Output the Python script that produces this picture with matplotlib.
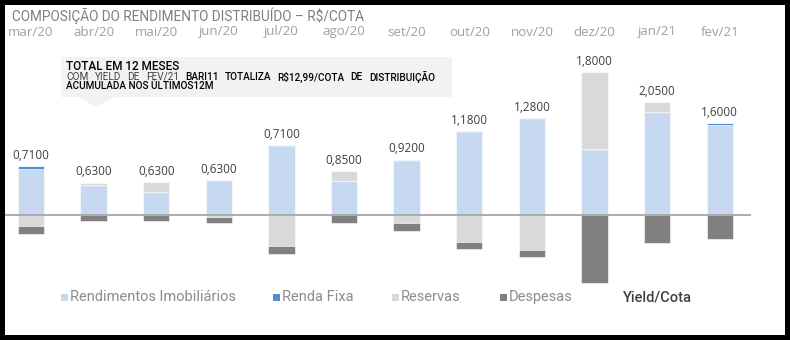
import numpy as np
import matplotlib
matplotlib.use("Agg")
import matplotlib.pyplot as plt
from matplotlib import font_manager as fm
from matplotlib.patches import Rectangle, Polygon

# ---------------- data ----------------
months = ['mar/20', 'abr/20', 'mai/20', 'jun/20', 'jul/20', 'ago/20',
          'set/20', 'out/20', 'nov/20', 'dez/20', 'jan/21', 'fev/21']
rend_imob = [1.10, 0.69, 0.53, 0.81, 1.64, 0.81, 1.29, 1.98, 2.29, 1.55, 2.42, 2.15]
renda_fixa = [0.065, 0.03, 0.025, 0.025, 0.025, 0.0, 0.03, 0.025, 0.025, 0.025, 0.03, 0.03]
reservas = [-0.27, 0.05, 0.22, -0.04, -0.74, 0.24, -0.20, -0.64, -0.83, 1.83, 0.245, 0.0]
despesas = [-0.18, -0.14, -0.14, -0.14, -0.19, -0.18, -0.17, -0.17, -0.17, -1.61, -0.66, -0.58]
yield_cota = [0.71, 0.63, 0.63, 0.63, 0.71, 0.85, 0.92, 1.18, 1.28, 1.80, 2.05, 1.60]
series_names = ['Rendimentos Imobiliários', 'Renda Fixa', 'Reservas', 'Despesas', 'Yield/Cota']
title = 'COMPOSIÇÃO DO RENDIMENTO DISTRIBUÍDO – R$/COTA'
note_l1 = 'TOTAL EM 12 MESES'
note_l2a = 'COM YIELD DE FEV/21'
note_l2b = 'BARI11 TOTALIZA R$12,99/COTA DE DISTRIBUIÇÃO'
note_l3 = 'ACUMULADA NOS ÚLTIMOS12M'

# ---------------- style ----------------
names = {f.name for f in fm.fontManager.ttflist}
COND = 'Liberation Sans Narrow' if 'Liberation Sans Narrow' in names else 'Roboto'
LAB = 'Open Sans' if 'Open Sans' in names else 'DejaVu Sans'

C_IMOB = '#c6d9f1'
C_RF = '#558ed5'
C_RES = '#d9d9d9'
C_DESP = '#808080'

W, H = 790, 340
fig = plt.figure(figsize=(W / 100, H / 100), dpi=100)
fig.patch.set_facecolor('black')
fig.patches.append(Rectangle((5 / W, 5 / H), 780 / W, 330 / H, transform=fig.transFigure,
                             facecolor='white', edgecolor='none', zorder=-10))

def fx(px):
    return px / W

def fy(py):
    return 1 - py / H

# axes: zero at y=215px, 42 px per unit
ax_top, ax_bot = 40, 285
ax = fig.add_axes([fx(5), fy(ax_bot), fx(751) - fx(5), (ax_bot - ax_top) / H])
ax.set_facecolor('none')
x = np.arange(len(months))
ax.set_xlim(-0.415, 11.5)
ax.set_ylim(-(ax_bot - 215) / 42, (215 - ax_top) / 42)
ax.axis('off')

imob = np.array(rend_imob)
rf = np.array(renda_fixa)
res = np.array(reservas)
desp = np.array(despesas)

bw = 0.42
kw = dict(width=bw, edgecolor='white', linewidth=0.4, zorder=2)
ax.bar(x, imob, color=C_IMOB, **kw)
ax.bar(x, rf, bottom=imob, color=C_RF, **kw)
res_pos = np.where(res > 0, res, 0)
res_neg = np.where(res < 0, res, 0)
ax.bar(x, res_pos, bottom=imob + rf, color=C_RES, **kw)
ax.bar(x, res_neg, color=C_RES, **kw)
ax.bar(x, desp, bottom=res_neg, color=C_DESP, **kw)
ax.axhline(0, color='#a6a6a6', linewidth=1.3, zorder=3)

tops = imob + rf + res_pos
for xi, t, v in zip(x, tops, yield_cota):
    ax.annotate(f'{v:.4f}'.replace('.', ','), (xi, t), xytext=(0, 3),
                textcoords='offset points', ha='center', va='bottom',
                fontsize=8.5, color='#404040', family=LAB)

# month labels at top
btrans = matplotlib.transforms.blended_transform_factory(ax.transData, fig.transFigure)
for xi, m in zip(x, months):
    ax.text(xi, fy(32), m, transform=btrans,
            ha='center', va='center', fontsize=9.5, color='#a0a0a0', family=LAB)

# title
fig.text(fx(12), fy(16), title, ha='left', va='center', fontsize=9.8,
         color='#7f7f7f', family=COND)

# annotation box
fig.patches.append(Rectangle((fx(61), fy(97)), fx(452) - fx(61), (97 - 57) / H,
                             transform=fig.transFigure, facecolor='#f2f2f2',
                             edgecolor='none', zorder=1))
fig.patches.append(Polygon([(fx(78), fy(97)), (fx(115), fy(97)), (fx(96.5), fy(107))],
                           closed=True, transform=fig.transFigure, facecolor='#f2f2f2',
                           edgecolor='none', zorder=1))
fig.text(fx(66), fy(67), note_l1, ha='left', va='center', fontsize=8.5,
         color='black', family=COND, fontweight='medium', zorder=3)
fig.text(fx(66), fy(86), note_l3, ha='left', va='center', fontsize=7.2,
         color='black', family=COND, fontweight='medium', zorder=3)

# justified line 2
words = [(w, '#404040', 'normal') for w in note_l2a.split()] + \
        [(w, 'black', 'medium') for w in note_l2b.split()]
txts = [fig.text(0, fy(77), w, ha='left', va='center', fontsize=7.2, color=c,
                 family=COND, fontweight=fw, zorder=3) for w, c, fw in words]
fig.canvas.draw()
r = fig.canvas.get_renderer()
widths = [t.get_window_extent(r).width for t in txts]
x0, x1 = 66, 435
gap = (x1 - x0 - sum(widths)) / (len(txts) - 1)
cur = x0
for t, wd in zip(txts, widths):
    t.set_x(fx(cur))
    cur += wd + gap

# legend
leg_items = [(series_names[0], C_IMOB, 61), (series_names[1], C_RF, 273),
             (series_names[2], C_RES, 392), (series_names[3], C_DESP, 500)]
for name, col, px in leg_items:
    fig.patches.append(Rectangle((fx(px), fy(300.5)), 7 / W, 7 / H, transform=fig.transFigure,
                                 facecolor=col, edgecolor='none'))
    fig.text(fx(px + 9), fy(297), name, ha='left', va='center', fontsize=10.5,
             color='#8c8c8c', family=COND)
fig.text(fx(623), fy(297), series_names[4], ha='left', va='center', fontsize=10.5,
         color='#404040', family=COND, fontweight='medium')

fig.savefig('out.png', dpi=100, facecolor=fig.get_facecolor())
